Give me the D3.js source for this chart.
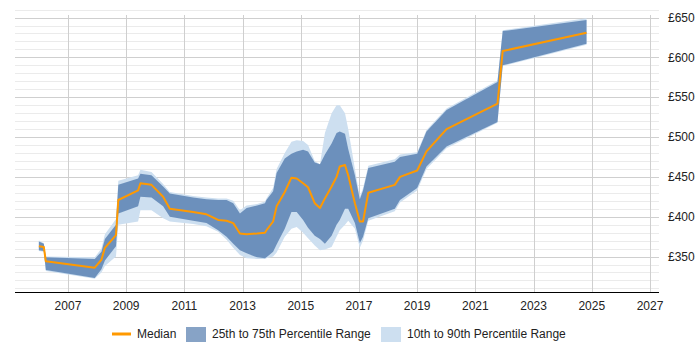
<!DOCTYPE html>
<html>
<head>
<meta charset="utf-8">
<script src="https://cdn.jsdelivr.net/npm/d3@7"></script>
<style>
  body { margin: 0; background: #fff; }
  svg { font-family: "Liberation Sans", Arial, sans-serif; }
</style>
</head>
<body>
<svg id="chart" width="700" height="350"></svg>
<script>
// decimal years of each sample
const years = [2006.00, 2006.17, 2006.24, 2007.92, 2008.15, 2008.27, 2008.65, 2008.73, 2009.41, 2009.49,
  2009.87, 2010.27, 2010.50, 2011.30, 2011.76, 2012.16, 2012.45, 2012.68, 2012.91, 2013.14,
  2013.50, 2013.77, 2013.82, 2014.05, 2014.17, 2014.45, 2014.68, 2014.86, 2015.08, 2015.25,
  2015.48, 2015.66, 2015.83, 2016.06, 2016.23, 2016.34, 2016.52, 2016.63, 2016.86, 2017.03,
  2017.14, 2017.32, 2018.23, 2018.41, 2019.00, 2019.32, 2020.01, 2021.76, 2021.94, 2024.82];
const median = [363, 362, 344, 336, 346, 361, 377, 421, 433, 442,
  440, 425, 410, 406, 403, 396, 395, 392, 379, 378,
  379, 380, 383, 394, 413, 431, 449, 448, 442, 437,
  417, 411, 423, 438, 450, 463, 465, 452, 417, 394,
  394, 430, 440, 450, 458, 482, 510, 542, 608, 631];
const p25 = [358, 357, 333, 323, 334, 345, 363, 404, 413, 425,
  424, 413, 400, 395, 392, 383, 375, 366, 358, 354,
  349, 348, 349, 356, 365, 385, 406, 406, 396, 386,
  376, 372, 366, 376, 390, 396, 410, 410, 392, 367,
  375, 398, 410, 421, 436, 463, 488, 519, 590, 617];
const p75 = [369, 366, 349, 347, 356, 372, 390, 440, 448, 454,
  452, 438, 429, 424, 422, 421, 421, 417, 404, 411,
  414, 417, 421, 432, 455, 473, 479, 482, 484, 482,
  468, 466, 478, 492, 505, 507, 504, 485, 452, 422,
  433, 461, 469, 475, 479, 507, 534, 569, 633, 647];
const p10 = [357, 356, 332, 322, 330, 338, 350, 390, 394, 408,
  408, 398, 394, 391, 388, 381, 371, 361, 352, 348,
  347, 347, 348, 350, 355, 375, 385, 387, 380, 373,
  364, 358, 359, 362, 375, 383, 390, 395, 385, 361,
  370, 395, 407, 418, 433, 460, 486, 518, 589, 616];
const p90 = [370, 367, 350, 349, 360, 378, 397, 445, 452, 459,
  456, 441, 431, 426, 424, 423, 423, 420, 408, 414,
  416, 419, 423, 436, 460, 480, 494, 496, 495, 490,
  470, 466, 505, 530, 540, 540, 530, 510, 460, 425,
  436, 464, 472, 478, 481, 509, 536, 571, 634, 649];

const xTicks = [2007, 2009, 2011, 2013, 2015, 2017, 2019, 2021, 2023, 2025, 2027];
const yTicks = [350, 400, 450, 500, 550, 600, 650];

const rows = years.map((yr, i) => ({
  yr: yr, med: median[i], q1: p25[i], q3: p75[i], lo: p10[i], hi: p90[i]
}));

const svg = d3.select("#chart");
const plotLeft = 15, plotRight = 659, plotTop = 8, plotBottom = 292;

const x = d3.scaleLinear().domain([2005.18, 2027.31]).range([plotLeft, plotRight]);
const y = d3.scaleLinear().domain([305.5, 662]).range([plotBottom, plotTop]);

// horizontal grid: minor every 10, major every 50
const grid = svg.append("g");
grid.selectAll(".minor")
  .data(d3.range(310, 661, 10).filter(v => v % 50 !== 0))
  .enter().append("line")
  .attr("x1", plotLeft).attr("x2", plotRight)
  .attr("y1", d => Math.round(y(d)) + 0.5).attr("y2", d => Math.round(y(d)) + 0.5)
  .attr("stroke", "#ebebeb");
grid.selectAll(".major")
  .data(yTicks)
  .enter().append("line")
  .attr("x1", plotLeft).attr("x2", plotRight)
  .attr("y1", d => Math.round(y(d)) + 0.5).attr("y2", d => Math.round(y(d)) + 0.5)
  .attr("stroke", "#cfcfcf");
grid.selectAll(".vert")
  .data(xTicks)
  .enter().append("line")
  .attr("x1", d => Math.round(x(d)) + 0.5).attr("x2", d => Math.round(x(d)) + 0.5)
  .attr("y1", plotTop + 7).attr("y2", plotBottom)
  .attr("stroke", "#cfcfcf");

const outer = d3.area()
  .x(d => x(d.yr)).y0(d => y(d.lo)).y1(d => y(d.hi));
const inner = d3.area()
  .x(d => x(d.yr)).y0(d => y(d.q1)).y1(d => y(d.q3));
const line = d3.line()
  .x(d => x(d.yr)).y(d => y(d.med));

svg.append("path").datum(rows).attr("d", outer).attr("fill", "#cddff0");
svg.append("path").datum(rows).attr("d", inner).attr("fill", "rgba(70,114,167,0.72)");
svg.append("path").datum(rows).attr("d", line)
  .attr("fill", "none").attr("stroke", "#ff9900").attr("stroke-width", 2)
  .attr("stroke-linejoin", "round");

// bottom axis
const xAxis = svg.append("g").attr("transform", `translate(0,${plotBottom})`);
xAxis.append("line").attr("x1", plotLeft).attr("x2", plotRight).attr("y1", 0.5).attr("y2", 0.5)
  .attr("stroke", "#000");
xAxis.selectAll("text").data(xTicks).enter().append("text")
  .attr("x", d => x(d)).attr("y", 18)
  .attr("text-anchor", "middle").attr("font-size", 12).attr("fill", "#222")
  .text(d => d);

// right labels
svg.append("g").selectAll("text").data(yTicks).enter().append("text")
  .attr("x", 668).attr("y", d => y(d)).attr("dy", "0.35em")
  .attr("font-size", 12).attr("fill", "#222")
  .text(d => "£" + d);

// legend
const legend = svg.append("g").attr("font-size", 12).attr("fill", "#222");
legend.append("line").attr("x1", 112).attr("x2", 131).attr("y1", 334).attr("y2", 334)
  .attr("stroke", "#ff9900").attr("stroke-width", 3);
legend.append("text").attr("x", 137).attr("y", 338).text("Median");
legend.append("rect").attr("x", 186).attr("y", 327).attr("width", 20).attr("height", 15)
  .attr("fill", "rgba(70,114,167,0.65)");
legend.append("text").attr("x", 212).attr("y", 338).text("25th to 75th Percentile Range");
legend.append("rect").attr("x", 381).attr("y", 327).attr("width", 20).attr("height", 15)
  .attr("fill", "#cddff0");
legend.append("text").attr("x", 407).attr("y", 338).text("10th to 90th Percentile Range");
</script>
</body>
</html>
